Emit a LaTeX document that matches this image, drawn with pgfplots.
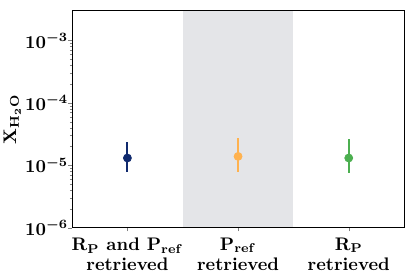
\documentclass[border=0pt]{standalone}
\usepackage{pgfplots}
\pgfplotsset{compat=1.18}
\definecolor{cnavy}{HTML}{102A6E}
\definecolor{corange}{HTML}{FFB24F}
\definecolor{cgreen}{HTML}{4CAF50}
\definecolor{cshade}{HTML}{E4E5E8}
\begin{document}
\begin{tikzpicture}
\path[use as bounding box] (-39.6pt,-28.2pt) rectangle (188.4pt,125.1pt);
\begin{axis}[
  at={(0pt,0pt)}, anchor=south west,
  scale only axis,
  width=182.4pt, height=119.2pt,
  ymode=log,
  ymin=1e-6, ymax=3e-3,
  xmin=-0.5, xmax=2.5,
  xtick={0,1,2},
  xticklabels={{$\mathbf{R_P}$ and $\mathbf{P_{ref}}$\\retrieved},{$\mathbf{P_{ref}}$\\retrieved},{$\mathbf{R_P}$\\retrieved}},
  xticklabel style={align=center, font=\bfseries\boldmath\fontsize{10}{11}\selectfont},
  yticklabel style={font=\boldmath, anchor=east, inner sep=0pt},
  ytick={1e-6,1e-5,1e-4,1e-3},
  tick pos=left,
  tick align=outside,
  major tick length=2pt,
  minor tick length=1.2pt,
  axis line style={line width=0.6pt},
  ylabel={$\mathbf{X_{H_2O}}$},
  ylabel style={font=\boldmath, at={(axis description cs:-0.1535,0.5)}, anchor=south, inner sep=0pt},
  axis on top,
]
\addplot[fill=cshade, draw=none, forget plot] coordinates {(0.5,1e-6) (0.5,3e-3) (1.5,3e-3) (1.5,1e-6)} -- cycle;
\addplot[only marks, mark=*, mark size=2.2pt, color=cnavy,
  error bars/.cd, y dir=both, y explicit, error bar style={line width=1pt}, error mark=none]
  coordinates {(0,1.31e-5) += (0,1.09e-5) -= (0,0.54e-5)};
\addplot[only marks, mark=*, mark size=2.2pt, color=corange,
  error bars/.cd, y dir=both, y explicit, error bar style={line width=1pt}, error mark=none]
  coordinates {(1,1.39e-5) += (0,1.33e-5) -= (0,0.605e-5)};
\addplot[only marks, mark=*, mark size=2.2pt, color=cgreen,
  error bars/.cd, y dir=both, y explicit, error bar style={line width=1pt}, error mark=none]
  coordinates {(2,1.31e-5) += (0,1.34e-5) -= (0,0.57e-5)};
\end{axis}
\end{tikzpicture}
\end{document}
